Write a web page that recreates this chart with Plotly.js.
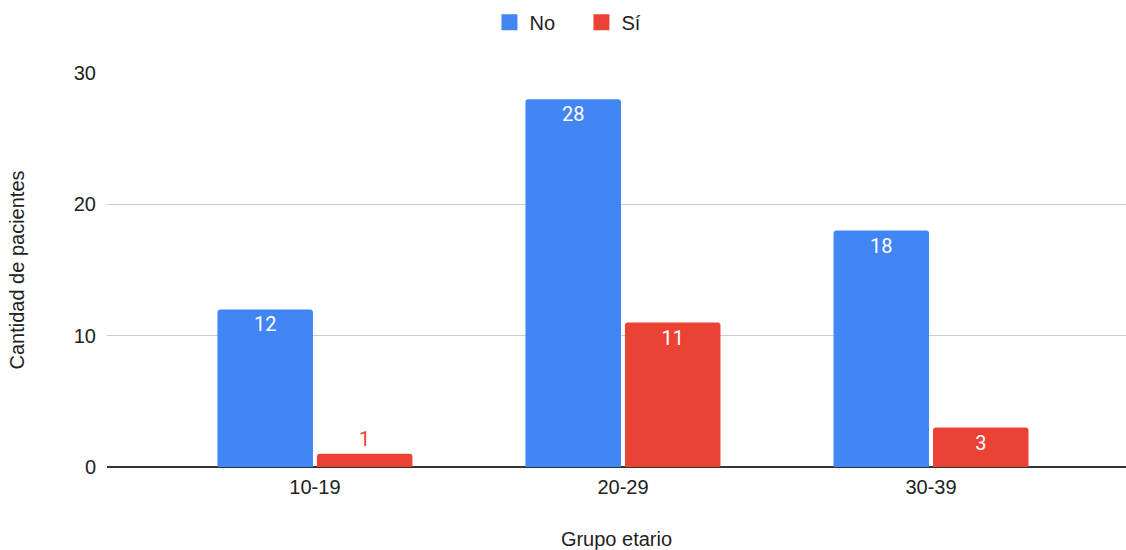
<!DOCTYPE html>
<html>
<head>
<meta charset="utf-8">
<script src="https://cdn.plot.ly/plotly-3.0.1.min.js"></script>
<style>html,body{margin:0;padding:0;background:#fff;}#chart{width:1126px;height:550px;}</style>
</head>
<body>
<div id="chart"></div>
<script>
const categories = ["10-19", "20-29", "30-39"];
const seriesNo = [12, 28, 18];
const seriesSi = [1, 11, 3];
const seriesNames = ["No", "Sí"];
const yTicks = [0, 10, 20, 30];

const font = "Arial, 'Liberation Sans', sans-serif";
const labelFont = "Roboto, Arial, sans-serif";
const colors = ["#4285F4", "#EA4335"];
function barTrace(name, values, color) {
  return {
    type: "bar",
    name: name,
    x: categories,
    y: values,
    text: values.map(String),
    textposition: "auto",
    insidetextanchor: "end",
    insidetextfont: {color: "#ffffff", size: 20, family: labelFont},
    outsidetextfont: {color: color, size: 20, family: labelFont},
    textangle: 0,
    cliponaxis: false,
    showlegend: false,
    marker: {color: color, cornerradius: 3},
    hoverinfo: "x+y+name"
  };
}
function legendTrace(name, color) {
  return {
    type: "scatter", mode: "markers", name: name,
    x: [null], y: [null],
    marker: {symbol: "square", size: 16, color: color},
    showlegend: true, hoverinfo: "skip"
  };
}
const data = [
  barTrace(seriesNames[0], seriesNo, colors[0]),
  barTrace(seriesNames[1], seriesSi, colors[1]),
  legendTrace(seriesNames[0], colors[0]),
  legendTrace(seriesNames[1], colors[1])
];
const layout = {
  width: 1126, height: 550,
  margin: {l: 107, r: 0, t: 73, b: 83},
  paper_bgcolor: "#fff", plot_bgcolor: "#fff",
  font: {family: font, size: 20, color: "#222"},
  barmode: "group",
  bargap: 0.354,
  bargroupgap: 0.04,
  showlegend: true,
  legend: {orientation: "h", x: 0.5164, xanchor: "center", xref: "container",
           y: 0.995, yanchor: "top", yref: "container",
           font: {size: 20, color: "#222"}, itemwidth: 30, traceorder: "normal",
           entrywidth: 47, entrywidthmode: "pixels"},
  xaxis: {
    type: "category",
    range: [-0.675, 2.633],
    showgrid: false, zeroline: false, showline: false,
    ticks: "", tickfont: {size: 20, color: "#222"},
    ticklabelstandoff: 6,
    title: {text: "Grupo etario", font: {size: 20, color: "#222"}, standoff: 38}
  },
  yaxis: {
    range: [0, 30],
    tickvals: yTicks,
    ticktext: yTicks.map(String),
    showgrid: true, gridcolor: "#cccccc", gridwidth: 1,
    zeroline: true, zerolinecolor: "#333333", zerolinewidth: 1.5,
    showline: false, ticks: "",
    tickfont: {size: 20, color: "#222"},
    ticklabelstandoff: 10,
    title: {text: "Cantidad de pacientes", font: {size: 20, color: "#222"}, standoff: 43}
  }
};
Plotly.newPlot("chart", data, layout, {displayModeBar: false, staticPlot: true});
</script>
</body>
</html>
